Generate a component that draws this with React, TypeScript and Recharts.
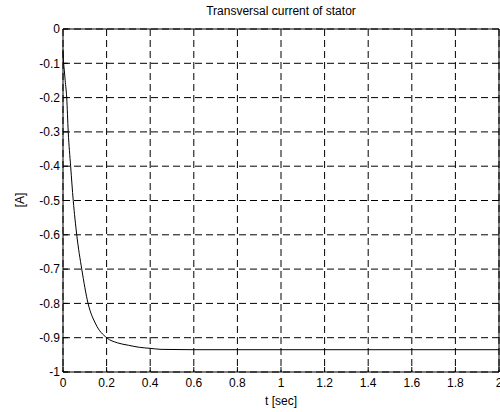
import { CartesianGrid, Line, LineChart, XAxis, YAxis } from "recharts";

// time [sec] and transversal stator current [A]
const times = [0, 0.002, 0.006, 0.01, 0.017, 0.024, 0.035, 0.047, 0.063, 0.086, 0.115, 0.15, 0.2, 0.25, 0.3, 0.35, 0.4, 0.45, 0.6, 1, 1.5, 2];
const current = [-0.06, -0.09, -0.12, -0.15, -0.2, -0.3, -0.4, -0.5, -0.6, -0.7, -0.8, -0.86, -0.9, -0.915, -0.922, -0.928, -0.931, -0.934, -0.935, -0.935, -0.935, -0.935];

const xTicks = [0, 0.2, 0.4, 0.6, 0.8, 1, 1.2, 1.4, 1.6, 1.8, 2];
const yTicks = [0, -0.1, -0.2, -0.3, -0.4, -0.5, -0.6, -0.7, -0.8, -0.9, -1];

const data = times.map((t, i) => ({ t, i: current[i] }));

const font = "'Liberation Sans', Arial, sans-serif";
const tickStyle = { fill: "#000", fontSize: 12, fontFamily: font };

export default function App() {
  return (
    <div style={{ position: "absolute", left: 0, top: 0, width: 500, height: 412, background: "#fff", fontFamily: font }}>
      <div style={{ position: "absolute", left: 0, width: 562, top: 4, textAlign: "center", fontSize: 12, color: "#000" }}>
        Transversal current of stator
      </div>
      <div
        style={{
          position: "absolute",
          left: 20,
          top: 200,
          fontSize: 12,
          color: "#000",
          transform: "translate(-50%, -50%) rotate(-90deg)",
          whiteSpace: "nowrap"
        }}
      >
        [A]
      </div>
      <div style={{ position: "absolute", left: 0, width: 562, top: 394, textAlign: "center", fontSize: 12, color: "#000" }}>
        t [sec]
      </div>
      <LineChart width={500} height={412} data={data} margin={{ top: 28, right: 0, bottom: 0, left: 0 }}>
        <CartesianGrid stroke="#000" strokeDasharray="7 4" horizontalValues={yTicks} verticalValues={xTicks} />
        <XAxis
          dataKey="t"
          type="number"
          domain={[0, 2]}
          ticks={xTicks}
          height={40}
          tickSize={-5}
          tickMargin={11}
          tick={tickStyle}
          stroke="#000"
          interval={0}
        />
        <XAxis
          xAxisId="top"
          orientation="top"
          dataKey="t"
          type="number"
          domain={[0, 2]}
          ticks={xTicks}
          height={1}
          tickSize={-5}
          tick={false}
          stroke="#000"
          interval={0}
        />
        <YAxis
          type="number"
          domain={[-1, 0]}
          ticks={yTicks}
          width={63}
          tickSize={-5}
          tickMargin={8}
          tick={tickStyle}
          stroke="#000"
          interval={0}
        />
        <YAxis
          yAxisId="right"
          orientation="right"
          type="number"
          domain={[-1, 0]}
          ticks={yTicks}
          width={1}
          tickSize={-5}
          tick={false}
          stroke="#000"
          interval={0}
        />
        <Line type="monotone" dataKey="i" stroke="#000" strokeWidth={1} dot={false} isAnimationActive={false} />
      </LineChart>
    </div>
  );
}
